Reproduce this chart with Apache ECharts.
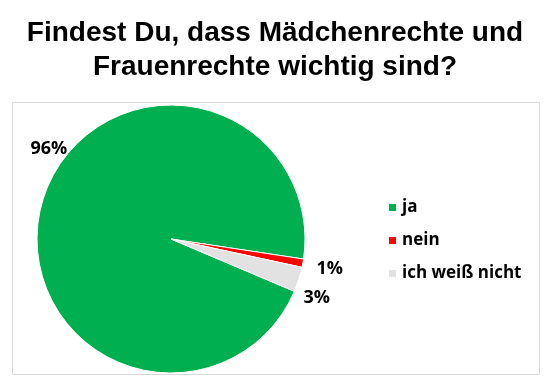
<!DOCTYPE html>
<html>
<head>
<meta charset="utf-8">
<script src="https://cdn.jsdelivr.net/npm/echarts@6/dist/echarts.min.js"></script>
<style>
html,body{margin:0;padding:0;background:#fff;}
#chart{width:550px;height:384px;}
</style>
</head>
<body>
<div id="chart"></div>
<script>
const categories = ['ja', 'nein', 'ich weiß nicht'];
const values = [96, 1, 3];
const labels = ['96%', '1%', '3%'];
const colors = ['#00b050', '#ff0000', '#e2e2e2'];
const labelShift = [[36, -52], [6, 5], [-6, 14]];

const chart = echarts.init(document.getElementById('chart'));
chart.setOption({
  animation: false,
  backgroundColor: '#ffffff',
  title: {
    text: 'Findest Du, dass Mädchenrechte und\nFrauenrechte wichtig sind?',
    left: 'center',
    top: 11,
    textStyle: {
      fontFamily: 'Liberation Sans',
      fontWeight: 'bold',
      fontSize: 28,
      lineHeight: 34,
      color: '#000'
    }
  },
  graphic: [{
    type: 'rect',
    shape: {x: 12.5, y: 102.5, width: 527, height: 272},
    style: {fill: 'none', stroke: '#d9d9d9', lineWidth: 1},
    z: -1
  }],
  legend: {
    orient: 'vertical',
    left: 382,
    top: 194,
    itemWidth: 9,
    itemHeight: 9,
    itemGap: 16,
    icon: 'rect',
    data: categories,
    textStyle: {
      fontFamily: 'Open Sans',
      fontWeight: 'bold',
      fontSize: 17,
      color: '#000'
    }
  },
  series: [{
    type: 'pie',
    center: [171, 239],
    radius: [0, 134],
    startAngle: -23,
    clockwise: true,
    data: categories.map((c, i) => ({
      name: c,
      value: values[i],
      itemStyle: {color: colors[i]},
      label: {formatter: labels[i]}
    })),
    itemStyle: {borderColor: '#fff', borderWidth: 1},
    label: {
      show: true,
      position: 'outside',
      overflow: 'none',
      fontFamily: 'Open Sans',
      fontWeight: 'bold',
      fontSize: 18,
      color: '#000'
    },
    labelLine: {show: false, length: 6, length2: 0},
    labelLayout: function (p) {
      const s = labelShift[p.dataIndex];
      return {dx: s[0], dy: s[1]};
    },
    emphasis: {disabled: true}
  }]
});
</script>
</body>
</html>
